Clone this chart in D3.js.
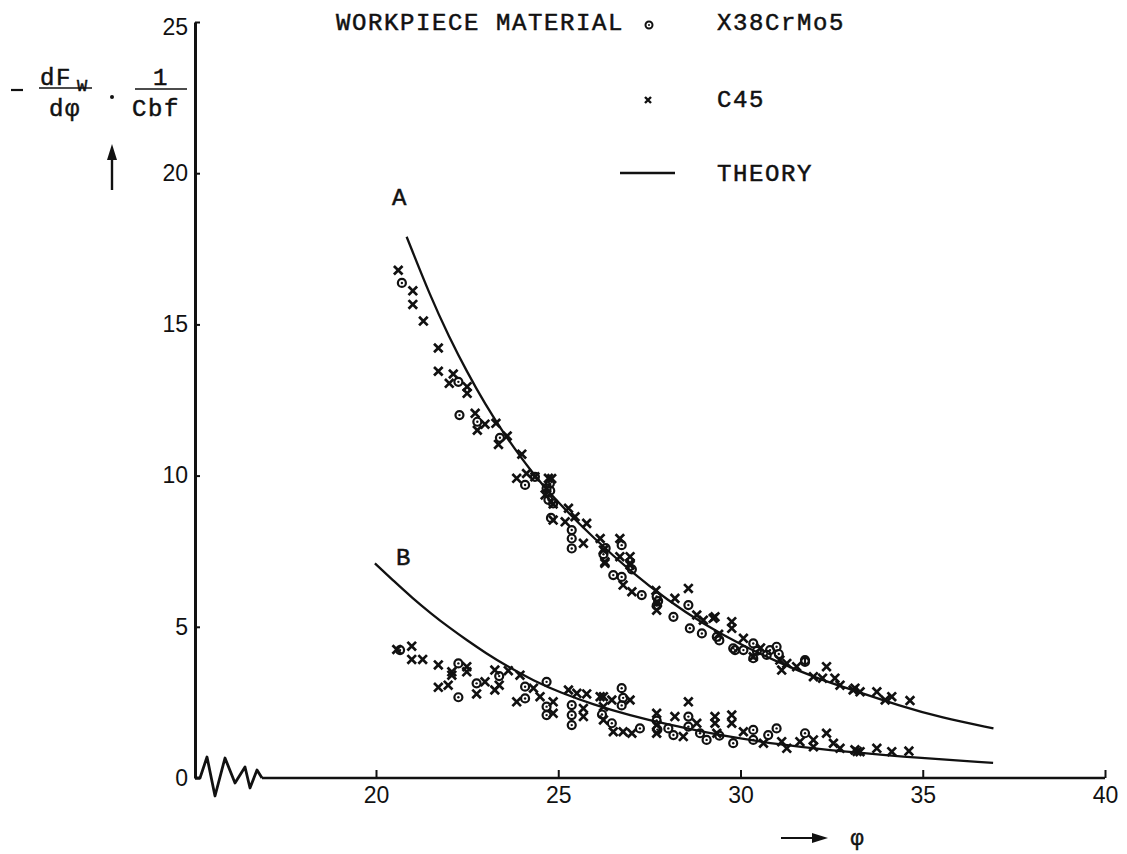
<!DOCTYPE html>
<html>
<head>
  <title>dFw/dphi vs phi</title>
  <style>
  html, body { margin:0; padding:0; background:#fff; }
  svg { display:block; }
  .mono { font-family: "Liberation Mono", "DejaVu Sans Mono", monospace; font-size:24px; letter-spacing:1.6px; fill:#111; stroke:#111; stroke-width:0.5px; }
  .tick text { font-family: "Liberation Sans", Arial, sans-serif; font-size:23px; fill:#111; }
  </style>
  <script src="https://d3js.org/d3.v7.min.js"></script>
</head>
<body>
<svg id="chart"></svg>
<script>
var width = 1127,
    height = 854;

// tick values
var xTicks = [20, 25, 30, 35, 40];
var yTicks = [0, 5, 10, 15, 20, 25];

// theory curves (phi, value)
var theoryA = [[20.84,17.9],[21.5,15.9],[22,14.6],[22.5,13.42],[23,12.35],[23.5,11.4],[24.27,10.1],[25,9.1],[26,7.9],[27,6.82],[28,5.88],[29,5.08],[30,4.42],[31,3.84],[32.18,3.26],[33,2.94],[34.38,2.38],[35.5,2.0],[36.94,1.64]];
var theoryB = [[19.97,7.1],[20.5,6.5],[21,5.95],[21.5,5.45],[22,4.98],[22.5,4.55],[23,4.14],[23.59,3.7],[24.32,3.22],[25.05,2.83],[25.96,2.43],[26.97,2.07],[28,1.77],[29,1.52],[30,1.3],[31,1.12],[32.36,0.92],[34.38,0.71],[36.93,0.5]];

// X38CrMo5 (circles)
var circA = [[20.71,16.37],[22.26,13.10],[22.29,12.00],[22.78,11.78],[23.40,11.25],[24.09,9.69],[24.36,9.96],[24.68,9.58],[24.73,9.2],[24.77,9.74],[24.86,9.08],[24.78,9.5],[24.80,8.6],
  [25.37,8.20],[25.37,7.92],[25.37,7.59],[26.24,7.4],[26.30,7.6],[26.74,7.70],[26.51,6.71],[26.74,6.65],[27.02,6.9],[27.29,6.05],[27.70,6.0],[27.70,5.7],[27.74,5.85],[28.16,5.33],
  [28.57,5.72],[28.61,4.95],[28.94,4.78],[29.35,4.67],[29.42,4.55],[29.80,4.29],[29.85,4.23],[30.08,4.23],[30.35,4.45],[30.35,3.96],[30.45,4.2],[30.72,4.07],[30.81,4.23],
  [30.99,4.34],[31.05,4.1],[31.77,3.84],[31.77,3.90]];
// C45 (crosses)
var crossA = [[20.61,16.79],[21.01,16.11],[21.01,15.66],[21.30,15.11],[21.71,14.22],[21.71,13.45],[22.12,13.36],[22.01,13.05],[22.50,12.94],[22.50,12.72],[22.72,12.06],[22.78,11.50],
  [22.99,11.70],[23.29,11.73],[23.36,11.03],[23.60,11.31],[24.00,10.71],[23.86,9.91],[24.13,10.07],[24.36,9.96],[24.73,9.91],[24.68,9.58],[24.64,9.36],[24.82,9.9],[24.86,9.06],
  [24.86,8.53],[25.28,8.92],[25.46,8.64],[25.78,8.42],[25.19,8.47],[25.69,7.76],[26.15,7.92],[26.24,7.54],[26.28,7.15],[26.28,7.10],[26.69,7.92],[26.69,7.32],[26.97,7.32],
  [26.97,7.04],[26.97,7.10],[26.78,6.38],[27.02,6.16],[27.68,6.2],[27.72,5.8],[27.70,5.55],[28.20,5.94],[28.57,6.27],[28.80,5.39],[28.98,5.22],[29.25,5.28],[29.30,5.33],
  [29.40,4.75],[29.76,5.17],[29.76,4.95],[30.08,4.62],[30.35,4.01],[30.55,4.3],[31.08,3.90],[31.27,3.79],[31.13,3.57],[31.54,3.68],[32.00,3.35],[32.25,3.30],[32.36,3.68],
  [32.59,3.30],[32.73,3.07],[33.09,2.91],[33.14,2.97],[33.28,2.85],[33.74,2.85],[33.97,2.58],[34.15,2.69],[34.65,2.56]];
var circB = [[20.66,4.23],[22.26,3.79],[22.26,2.67],[22.76,3.13],[23.38,3.37],[24.09,3.02],[24.09,2.63],[24.68,3.18],[24.68,2.36],[24.68,2.08],[25.37,2.41],[25.37,2.08],[25.37,1.75],
  [26.2,2.1],[26.74,2.4],[26.74,2.97],[26.78,2.65],[26.47,1.81],[27.24,1.64],[27.70,1.9],[27.72,1.6],[28.02,1.64],[28.16,1.42],[28.57,2.03],[28.57,1.70],[28.89,1.48],
  [29.07,1.26],[29.42,1.4],[29.80,1.15],[30.35,1.59],[30.35,1.26],[30.76,1.42],[30.99,1.64],[31.77,1.48]];
var crossB = [[20.57,4.25],[20.98,4.36],[20.98,3.92],[21.28,3.92],[21.71,3.74],[22.08,3.51],[22.08,3.40],[22.49,3.68],[22.49,3.51],[21.71,3.00],[21.98,3.07],[22.76,2.78],
  [22.99,3.18],[23.26,3.57],[23.38,3.07],[23.26,2.91],[23.63,3.55],[23.95,3.40],[23.86,2.52],[24.32,2.97],[24.50,2.69],[24.86,2.52],[24.86,2.14],[25.28,2.91],[25.51,2.80],
  [25.78,2.78],[25.69,2.30],[25.69,2.03],[26.15,2.69],[26.24,2.36],[26.24,1.92],[26.24,2.69],[26.47,2.58],[26.97,2.58],[26.51,1.53],[26.78,1.53],[27.02,1.48],[27.70,2.14],
  [27.70,1.75],[27.70,1.48],[28.57,2.52],[28.20,2.03],[28.43,1.37],[28.80,1.81],[29.30,2.03],[29.30,1.81],[29.76,2.08],[29.76,1.81],[29.35,1.48],[30.08,1.53],[30.63,1.15],
  [31.13,1.20],[31.27,0.98],[31.63,1.20],[32.00,1.26],[32.36,1.48],[32.00,1.03],[32.55,1.15],[32.73,0.98],[33.14,0.93],[33.20,0.88],[33.28,0.87],[33.74,0.98],[34.15,0.87],
  [34.62,0.89]];

var legendItems = ["X38CrMo5", "C45", "THEORY"];

var svg = d3.select("#chart")
    .attr("width", width)
    .attr("height", height);

svg.append("rect").attr("width", width).attr("height", height).attr("fill", "#fff");

var x = d3.scaleLinear().domain([20, 40]).range([376, 1105]);
var y = d3.scaleLinear().domain([0, 25]).range([778, 22]);
var axisX0 = 195;   // where the y axis stands (broken x axis)

// y axis
var yAxis = svg.append("g")
    .attr("transform", "translate(" + axisX0 + ",0)")
    .call(d3.axisLeft(y).tickValues(yTicks).tickSizeInner(-5).tickSizeOuter(0).tickPadding(7));
yAxis.select(".domain").attr("stroke", "#111").attr("stroke-width", 3);
yAxis.selectAll(".tick line").attr("stroke", "#111").attr("stroke-width", 2);
yAxis.selectAll(".tick").filter(function(d){ return d === 25; }).select("text").attr("dy", "0.55em");

// x axis
var xAxis = svg.append("g")
    .attr("transform", "translate(0," + y(0) + ")")
    .call(d3.axisBottom(x).tickValues(xTicks).tickSizeInner(-8).tickSizeOuter(0).tickPadding(9));
xAxis.select(".domain").remove();
xAxis.selectAll(".tick line").attr("stroke", "#111").attr("stroke-width", 2);

// axis break squiggle, then axis line
var zig = [[0,0],[5,0],[12,-21],[20,18],[30,-20],[40,5],[50,-11],[55,10],[62,-8],[67,0]];
svg.append("path")
    .attr("d", d3.line()(zig.map(function(p){ return [axisX0 + p[0], y(0) + p[1]]; })))
    .attr("fill", "none").attr("stroke", "#111").attr("stroke-width", 2.8)
    .attr("stroke-linejoin", "round");
svg.append("line")
    .attr("x1", axisX0 + 67).attr("x2", x(40))
    .attr("y1", y(0)).attr("y2", y(0))
    .attr("stroke", "#111").attr("stroke-width", 2.4);

// theory curves
var line = d3.line()
    .x(function(d){ return x(d[0]); })
    .y(function(d){ return y(d[1]); })
    .curve(d3.curveBasis);
[theoryA, theoryB].forEach(function(t){
  svg.append("path").attr("d", line(t))
    .attr("fill", "none").attr("stroke", "#111").attr("stroke-width", 2.3);
});

// markers
function drawCircles(data) {
  var g = svg.append("g");
  g.selectAll("circle.o").data(data).enter().append("circle")
    .attr("cx", function(d){ return x(d[0]); })
    .attr("cy", function(d){ return y(d[1]); })
    .attr("r", 4).attr("fill", "none").attr("stroke", "#111").attr("stroke-width", 2.2);
  g.selectAll("circle.c").data(data).enter().append("circle")
    .attr("cx", function(d){ return x(d[0]); })
    .attr("cy", function(d){ return y(d[1]); })
    .attr("r", 1.2).attr("fill", "#111");
}
var crossPath = "M-4.3,-4.3L4.3,4.3M-4.3,4.3L4.3,-4.3";
function drawCrosses(data) {
  svg.append("g").selectAll("path").data(data).enter().append("path")
    .attr("d", crossPath)
    .attr("transform", function(d){ return "translate(" + x(d[0]) + "," + y(d[1]) + ")"; })
    .attr("stroke", "#111").attr("stroke-width", 2.7);
}
drawCircles(circA); drawCircles(circB);
drawCrosses(crossA); drawCrosses(crossB);

// curve labels
svg.append("text").attr("class", "mono").attr("x", 400).attr("y", 205).attr("text-anchor", "middle").text("A");
svg.append("text").attr("class", "mono").attr("x", 404).attr("y", 565).attr("text-anchor", "middle").text("B");

// legend
svg.append("text").attr("class", "mono").attr("x", 336).attr("y", 30).text("WORKPIECE MATERIAL");
var legY = [22, 99, 173];
svg.selectAll("text.leg").data(legendItems).enter().append("text")
    .attr("class", "mono leg")
    .attr("x", 717)
    .attr("y", function(d, i){ return legY[i] + 8; })
    .text(function(d){ return d; });
svg.append("circle").attr("cx", 649).attr("cy", 25).attr("r", 3.5).attr("fill", "none").attr("stroke", "#111").attr("stroke-width", 2);
svg.append("circle").attr("cx", 649).attr("cy", 25).attr("r", 1).attr("fill", "#111");
svg.append("path").attr("d", "M-3,-3L3,3M-3,3L3,-3").attr("transform", "translate(648,100)")
    .attr("stroke", "#111").attr("stroke-width", 2.4);
svg.append("line").attr("x1", 620).attr("x2", 675).attr("y1", 173).attr("y2", 173)
    .attr("stroke", "#111").attr("stroke-width", 2.4);

// y axis title:  - dFw/dphi . 1/Cbf
var yt = svg.append("g");
yt.append("line").attr("x1", 11).attr("x2", 23).attr("y1", 90).attr("y2", 90).attr("stroke", "#111").attr("stroke-width", 2.2);
yt.append("text").attr("class", "mono").attr("x", 40).attr("y", 85).text("dF");
yt.append("text").attr("class", "mono").attr("x", 77).attr("y", 91).style("font-size", "17px").style("letter-spacing", "0px").text("W");
yt.append("line").attr("x1", 39).attr("x2", 92).attr("y1", 88).attr("y2", 88).attr("stroke", "#111").attr("stroke-width", 1.6);
yt.append("text").attr("class", "mono").attr("x", 49).attr("y", 116).text("dφ");
yt.append("circle").attr("cx", 112).attr("cy", 97).attr("r", 2).attr("fill", "#111");
yt.append("text").attr("class", "mono").attr("x", 161).attr("y", 85).attr("text-anchor", "middle").text("1");
yt.append("line").attr("x1", 135).attr("x2", 187).attr("y1", 89).attr("y2", 89).attr("stroke", "#111").attr("stroke-width", 1.6);
yt.append("text").attr("class", "mono").attr("x", 132).attr("y", 116).text("Cbf");
// up arrow
yt.append("line").attr("x1", 112).attr("x2", 112).attr("y1", 190).attr("y2", 155).attr("stroke", "#111").attr("stroke-width", 2.4);
yt.append("path").attr("d", "M112,144L107,160L117,160Z").attr("fill", "#111");

// x axis title: -> phi
svg.append("line").attr("x1", 781).attr("x2", 815).attr("y1", 838).attr("y2", 838).attr("stroke", "#111").attr("stroke-width", 2.2);
svg.append("path").attr("d", "M828,838L812,833L812,843Z").attr("fill", "#111");
svg.append("text").attr("class", "mono").attr("x", 858).attr("y", 845).attr("text-anchor", "middle").style("font-size", "22px").text("φ");
</script>
</body>
</html>
